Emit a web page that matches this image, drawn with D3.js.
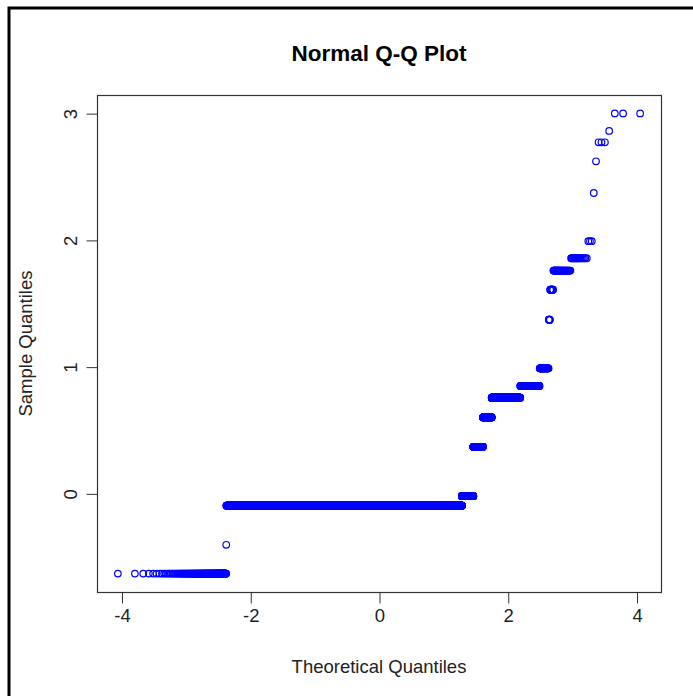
<!DOCTYPE html>
<html>
<head>
<meta charset="utf-8">
<script src="https://cdn.jsdelivr.net/npm/d3@7"></script>
<style>
  html, body { margin: 0; padding: 0; background: #ffffff; }
  svg { display: block; }
  text { font-family: "Liberation Sans", Arial, sans-serif; }
</style>
</head>
<body>
<svg id="chart" width="693" height="696"></svg>
<script>
// Distinct sample values (sorted) and how many observations take each value
const sampleLevels = [-0.633, -0.406, -0.097, -0.022, 0.367, 0.600, 0.755, 0.847, 0.987,
                      1.370, 1.607, 1.758, 1.855, 1.990, 2.370, 2.620, 2.770, 2.860, 2.998];
const levelCounts  = [176, 1, 17843, 551, 366, 262, 519, 156, 42,
                      5, 11, 39, 17, 3, 1, 1, 3, 1, 3];

const xTicks = [-4, -2, 0, 2, 4];
const yTicks = [0, 1, 2, 3];

const titleText = "Normal Q-Q Plot";
const xLabel = "Theoretical Quantiles";
const yLabel = "Sample Quantiles";

// Inverse standard normal CDF (Wichura, AS 241)
function qnorm(p) {
  const q = p - 0.5;
  let r, val;
  if (Math.abs(q) <= 0.425) {
    r = 0.180625 - q * q;
    val = q * (((((((r * 2509.0809287301226727 + 33430.575583588128105) * r + 67265.770927008700853) * r +
            45921.953931549871457) * r + 13731.693765509461125) * r + 1971.5909503065514427) * r +
            133.14166789178437745) * r + 3.387132872796366608) /
          (((((((r * 5226.495278852545925 + 28729.085735721942674) * r + 39307.89580009271061) * r +
            21213.794301586595867) * r + 5394.1960214247511077) * r + 687.1870074920579083) * r +
            42.313330701600911252) * r + 1.0);
    return val;
  }
  r = q < 0 ? p : 1 - p;
  r = Math.sqrt(-Math.log(r));
  if (r <= 5) {
    r -= 1.6;
    val = (((((((r * 7.7454501427834140764e-4 + 0.0227238449892691845833) * r + 0.24178072517745061177) * r +
            1.27045825245236838258) * r + 3.64784832476320460504) * r + 5.7694972214606914055) * r +
            4.6303378461565452959) * r + 1.42343711074968357734) /
          (((((((r * 1.05075007164441684324e-9 + 5.475938084995344946e-4) * r + 0.0151986665636164571966) * r +
            0.14810397642748007459) * r + 0.68976733498510000455) * r + 1.6763848301838038494) * r +
            2.05319162663775882187) * r + 1.0);
  } else {
    r -= 5;
    val = (((((((r * 2.01033439929228813265e-7 + 2.71155556874348757815e-5) * r + 0.0012426609473880784386) * r +
            0.026532189526576123093) * r + 0.29656057182850489123) * r + 1.7848265399172913358) * r +
            5.4637849111641143699) * r + 6.6579046435011037772) /
          (((((((r * 2.04426310338993978564e-15 + 1.4215117583164458887e-7) * r + 1.8463183175100546818e-5) * r +
            7.868691311456132591e-4) * r + 0.0148753612908506148525) * r + 0.13692988092273580531) * r +
            0.59983220655588793769) * r + 1.0);
  }
  return q < 0 ? -val : val;
}

// Expand the sorted sample and pair it with normal plotting positions
const sample = [];
sampleLevels.forEach((v, i) => { for (let k = 0; k < levelCounts[i]; k++) sample.push(v); });
const n = sample.length;
const a = n <= 10 ? 3 / 8 : 0.5;
const points = sample.map((v, i) => ({ x: qnorm((i + 1 - a) / (n + 1 - 2 * a)), y: v }));

// Plot region
const plotLeft = 97, plotRight = 661, plotTop = 95, plotBottom = 592;

function padded(ext) {
  const d = (ext[1] - ext[0]) * 0.04;
  return [ext[0] - d, ext[1] + d];
}

const x = d3.scaleLinear().domain(padded(d3.extent(points, d => d.x))).range([plotLeft, plotRight]);
const y = d3.scaleLinear().domain(padded(d3.extent(points, d => d.y))).range([plotBottom, plotTop]);

const svg = d3.select("#chart");

svg.append("rect").attr("width", 693).attr("height", 696).attr("fill", "#ffffff");

// Outer frame (left and top edges in view)
svg.append("path")
  .attr("d", "M9,700V8H700")
  .attr("fill", "none").attr("stroke", "#000").attr("stroke-width", 3);

// Points
svg.append("g")
  .selectAll("circle")
  .data(points)
  .join("circle")
  .attr("cx", d => x(d.x))
  .attr("cy", d => y(d.y))
  .attr("r", 3.3)
  .attr("fill", "none")
  .attr("stroke", "#0000ff")
  .attr("stroke-width", 1.2);

// Plot box
svg.append("rect")
  .attr("x", plotLeft + 0.5).attr("y", plotTop + 0.5)
  .attr("width", plotRight - plotLeft).attr("height", plotBottom - plotTop)
  .attr("fill", "none").attr("stroke", "#333").attr("stroke-width", 1.2);

// X axis
const xAxis = d3.axisBottom(x).tickValues(xTicks).tickSize(11).tickPadding(5).tickFormat(d3.format("d"));
const gx = svg.append("g").attr("transform", `translate(0.5,${plotBottom + 0.5})`).call(xAxis);
gx.select(".domain")
  .attr("d", `M${x(xTicks[0])},0H${x(xTicks[xTicks.length - 1])}`)
  .attr("stroke", "#333");
gx.selectAll(".tick line").attr("stroke", "#333");
gx.selectAll(".tick text")
  .attr("font-size", 18.5).attr("fill", "#222")
  .attr("font-family", "Liberation Sans, Arial, sans-serif")
  .text(d => d < 0 ? "-" + Math.abs(d) : String(d));

// Y axis (labels parallel to the axis)
const yAxis = d3.axisLeft(y).tickValues(yTicks).tickSize(11).tickPadding(0).tickFormat(d3.format("d"));
const gy = svg.append("g").attr("transform", `translate(${plotLeft + 0.5},0.5)`).call(yAxis);
gy.select(".domain")
  .attr("d", `M0,${y(yTicks[0])}V${y(yTicks[yTicks.length - 1])}`)
  .attr("stroke", "#333");
gy.selectAll(".tick line").attr("stroke", "#333");
gy.selectAll(".tick text")
  .attr("font-size", 18.5).attr("fill", "#222")
  .attr("font-family", "Liberation Sans, Arial, sans-serif")
  .attr("x", null).attr("dy", null)
  .attr("text-anchor", "middle")
  .attr("transform", "translate(-21,0) rotate(-90)");

// Title and axis titles
svg.append("text")
  .attr("x", (plotLeft + plotRight) / 2).attr("y", 61)
  .attr("text-anchor", "middle")
  .attr("font-size", 22.5).attr("font-weight", "bold").attr("fill", "#000")
  .text(titleText);

svg.append("text")
  .attr("x", (plotLeft + plotRight) / 2).attr("y", 673)
  .attr("text-anchor", "middle")
  .attr("font-size", 18.5).attr("fill", "#222")
  .text(xLabel);

svg.append("text")
  .attr("transform", `translate(32,${(plotTop + plotBottom) / 2}) rotate(-90)`)
  .attr("text-anchor", "middle")
  .attr("font-size", 18.5).attr("fill", "#222")
  .text(yLabel);
</script>
</body>
</html>
